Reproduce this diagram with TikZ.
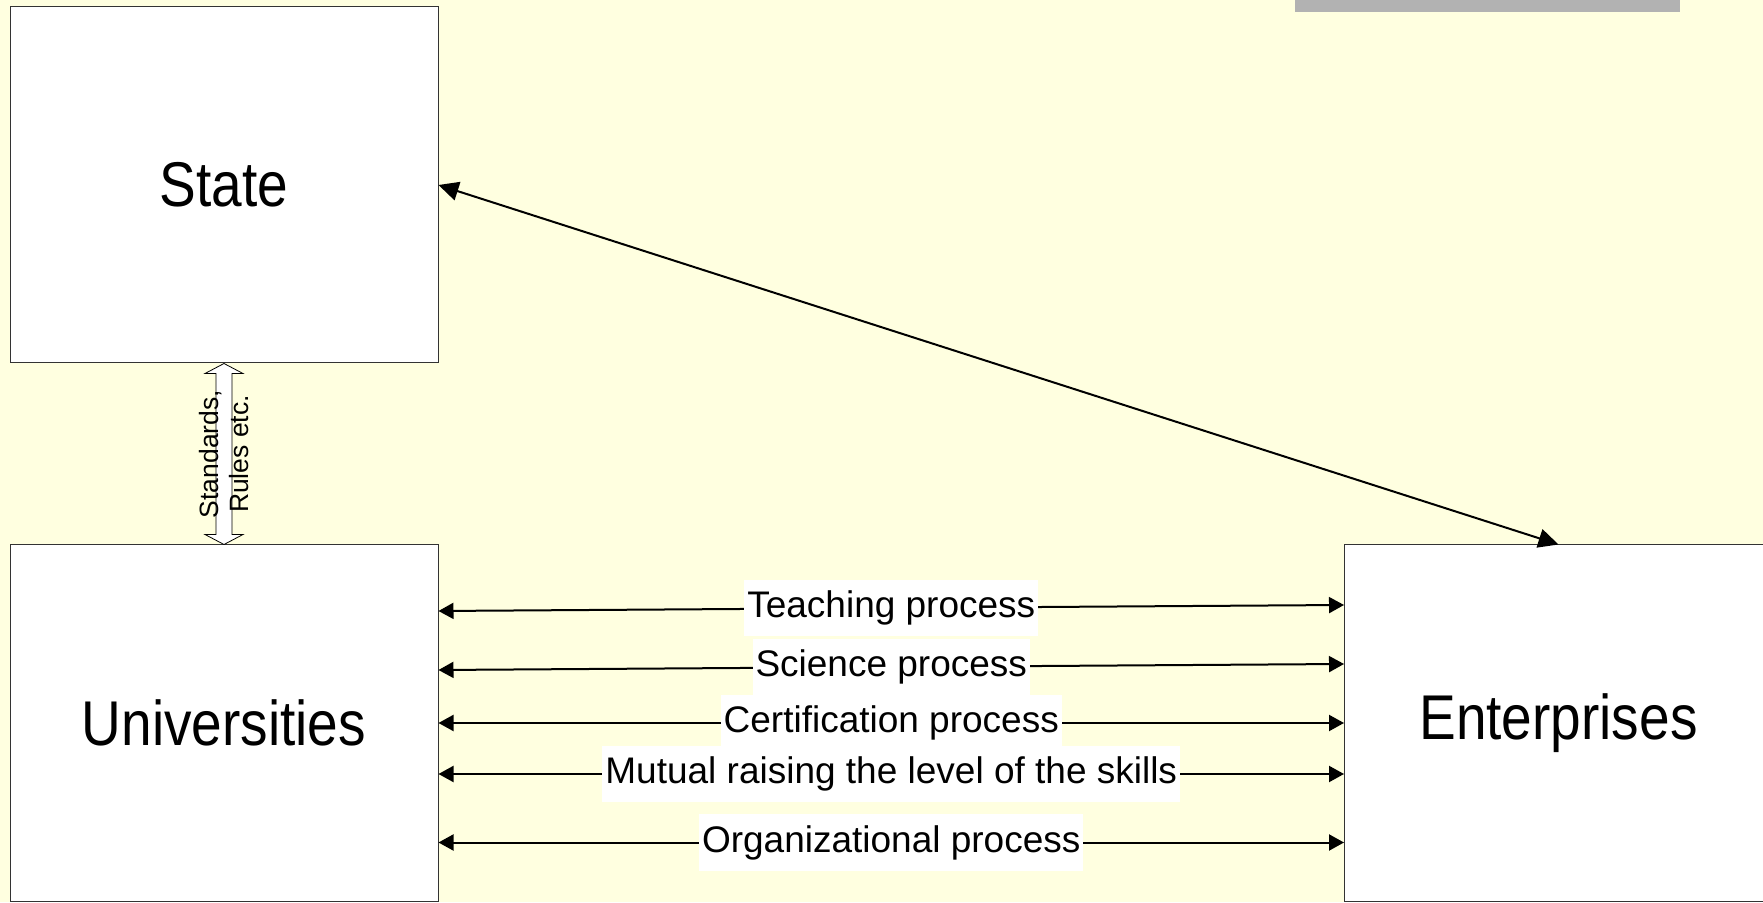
\documentclass[tikz,border=0pt]{standalone}
\usepackage{fontspec}
\setmainfont{Liberation Sans}
\usetikzlibrary{arrows.meta}
\definecolor{paper}{RGB}{255,255,224}
\definecolor{topbar}{RGB}{178,178,178}
\tikzset{
  triad/.style={
    x=1pt, y=1pt,
    actor/.style={
        draw=black!80,
        line width=1pt,
        fill=white,
        minimum width=428pt,
        minimum height=356pt,
        inner sep=0pt,
        font=\fontsize{55}{60}\selectfont,
    },
    link/.style={
        line width=2pt,
        {Triangle[length=15pt,width=16pt]}-{Triangle[length=15pt,width=16pt]},
    },
    long link/.style={
        line width=2pt,
        {Triangle[length=20pt,width=19pt]}-{Triangle[length=20pt,width=19pt]},
    },
    process/.style={fill=white, inner xsep=3pt, inner ysep=11pt, font=\fontsize{37}{40}\selectfont},
    rule arrow/.style={draw=black, line width=0.8pt, fill=white},
  }
}
\newcommand{\tallname}[1]{\scalebox{1}[1.15]{#1}}

\begin{document}
\begin{tikzpicture}[triad]
        \useasboundingbox (0,0) rectangle (1763,902);
        \fill[paper] (0,0) rectangle (1763,902);
        \fill[topbar] (1295,890) rectangle (1680,902);

        \node[actor] (state) at (224,717) {\tallname{State}};
        \node[actor] (univ) at (224,179) {\tallname{Universities}};
        \node[actor] (ent) at (1558.5,179) {\tallname{Enterprises}};

        % standards and rules between state and universities
        \draw[rule arrow] (state.south) -- ++(19,-10) -- ++(-11,0)
            -- ([xshift=8pt,yshift=10pt]univ.north) -- ++(11,0) -- (univ.north)
            -- ++(-19,10) -- ++(11,0)
            -- ([xshift=-8pt,yshift=-10pt]state.south) -- ++(-11,0) -- cycle;
        \path (state.south) -- (univ.north)
            node[midway, rotate=90, align=center, font=\fontsize{26.5}{29.5}\selectfont] (rules) {Standards,\\Rules etc.};

        \draw[long link] (state.east) -- (ent.north);

        % processes between universities and enterprises
        \draw[link] ([yshift=112pt]univ.east) -- ([yshift=118pt]ent.west)
            node[midway, process] (teach) {Teaching process};
        \draw[link] ([yshift=53pt]univ.east) -- ([yshift=59pt]ent.west)
            node[midway, process] (science) {Science process};
        \draw[link] (univ.east) -- (ent.west)
            node[midway, process] (cert) {Certification process};
        \draw[link] ([yshift=-51pt]univ.east) -- ([yshift=-51pt]ent.west)
            node[midway, process] (skills) {Mutual raising the level of the skills};
        \draw[link] ([yshift=-119.5pt]univ.east) -- ([yshift=-119.5pt]ent.west)
            node[midway, process] (org) {Organizational process};
\end{tikzpicture}
\end{document}
